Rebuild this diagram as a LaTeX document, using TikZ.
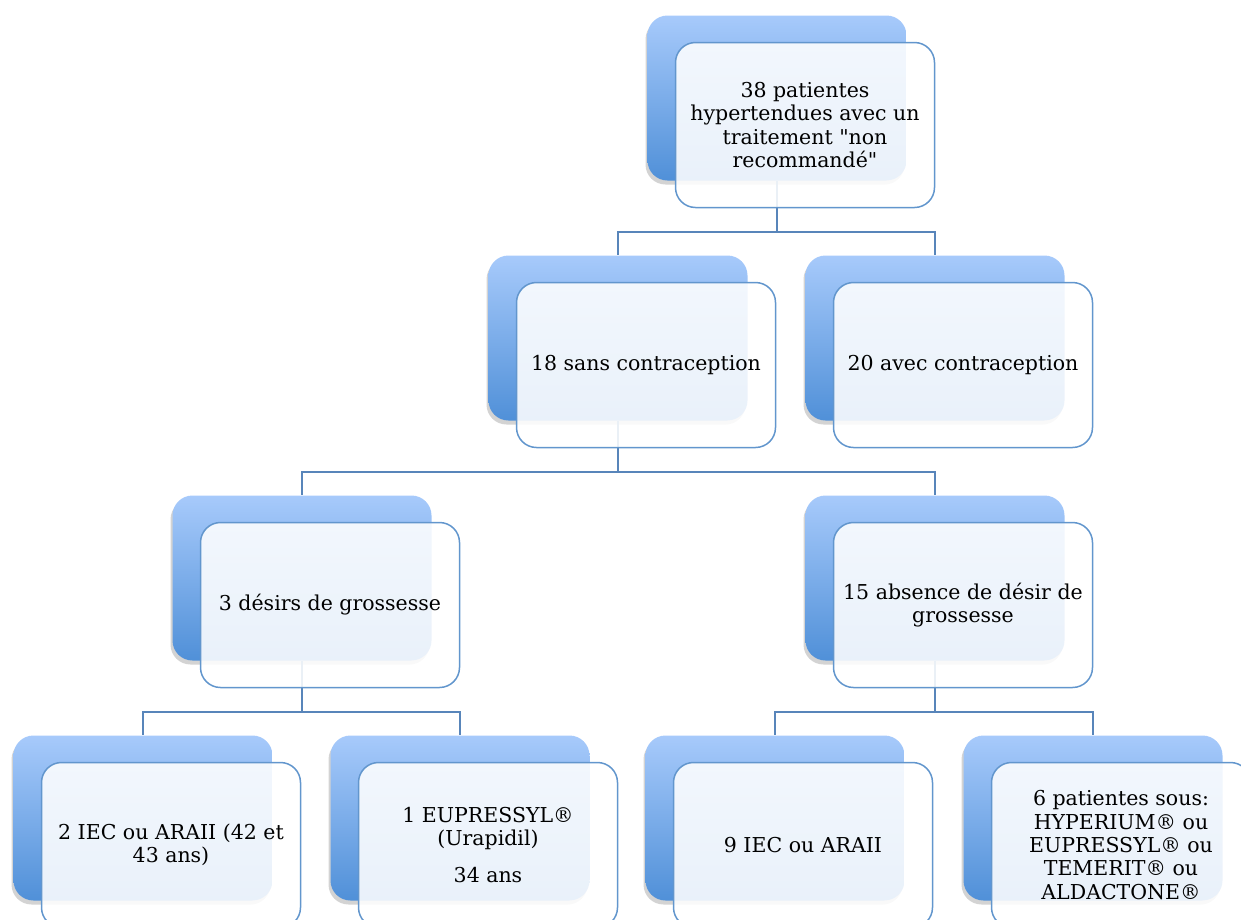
\documentclass[tikz,border=0pt]{standalone}
\usepackage{fontspec}
\setmainfont{DejaVu Serif}[Ligatures=TeXOff]
\usetikzlibrary{calc,shadows}

\definecolor{bleuclair}{RGB}{167,202,251}
\definecolor{bleufonce}{RGB}{80,144,216}
\definecolor{bordure}{RGB}{98,150,205}
\definecolor{trait}{RGB}{88,133,186}

\begin{document}
\begin{tikzpicture}[x=1pt,y=-1pt,
  fond/.style={rectangle,rounded corners=20pt,minimum width=259pt,minimum height=165pt,
    inner sep=0pt,top color=bleuclair,bottom color=bleufonce,
    drop shadow={shadow xshift=-2pt,shadow yshift=-4pt,opacity=.35}},
  carte/.style={rectangle,rounded corners=20pt,minimum width=259pt,minimum height=165pt,
    inner sep=0pt,draw=bordure,line width=1.5pt,fill=white,fill opacity=.88,text opacity=1,
    align=center,font=\fontsize{20.5}{23.3}\selectfont},
  lien/.style={draw=trait,line width=1.8pt}]
  \useasboundingbox (0,0) rectangle (1241,919);

  % Blocs de fond (dégradé bleu)
  \node[fond] (haut) at (777,98) {};
  \node[fond] (sans) at (618,338) {};
  \node[fond] (avec) at (935,338) {};
  \node[fond] (desir) at (302,578) {};
  \node[fond] (absence) at (935,578) {};
  \node[fond] (iec) at (143,818) {};
  \node[fond] (eupre) at (460,818) {};
  \node[fond] (iecb) at (775,818) {};
  \node[fond] (autres) at (1093,818) {};

  % Liaisons
  \draw[lien] (haut.south) -- ++(0,51) -| (sans.north);
  \draw[lien] (haut.south) ++(0,51) -| (avec.north);
  \draw[lien] (sans.south) -- ++(0,51) -| (desir.north);
  \draw[lien] (sans.south) ++(0,51) -| (absence.north);
  \draw[lien] (desir.south) -- ++(0,51) -| (iec.north);
  \draw[lien] (desir.south) ++(0,51) -| (eupre.north);
  \draw[lien] (absence.south) -- ++(0,51) -| (iecb.north);
  \draw[lien] (absence.south) ++(0,51) -| (autres.north);

  % Cartes avec le texte
  \node[carte] (t-haut) at ($(haut)+(28,27)$) {38 patientes\\hypertendues avec un\\traitement "non\\recommandé"};
  \node[carte] (t-sans) at ($(sans)+(28,27)$) {18 sans contraception};
  \node[carte] (t-avec) at ($(avec)+(28,27)$) {20 avec contraception};
  \node[carte] (t-desir) at ($(desir)+(28,27)$) {3 désirs de grossesse};
  \node[carte] (t-absence) at ($(absence)+(28,27)$) {15 absence de désir de\\grossesse};
  \node[carte] (t-iec) at ($(iec)+(28,27)$) {2 IEC ou ARAII (42 et\\43 ans)};
  \node[carte] (t-eupre) at ($(eupre)+(28,27)$) {1 EUPRESSYL®\\(Urapidil)\\[14pt]34 ans};
  \node[carte] (t-iecb) at ($(iecb)+(28,27)$) {9 IEC ou ARAII};
  \node[carte] (t-autres) at ($(autres)+(28,27)$) {6 patientes sous:\\HYPERIUM® ou\\EUPRESSYL® ou\\TEMERIT® ou\\ALDACTONE®};
\end{tikzpicture}
\end{document}
